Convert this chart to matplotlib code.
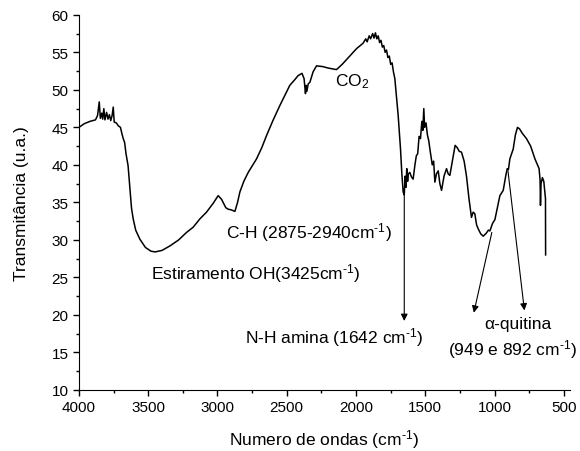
import matplotlib.pyplot as plt
from matplotlib.ticker import MultipleLocator

plt.rcParams['font.family'] = ['Liberation Sans', 'DejaVu Sans']
plt.rcParams['mathtext.fontset'] = 'custom'
plt.rcParams['mathtext.rm'] = 'Liberation Sans'
plt.rcParams['mathtext.it'] = 'Liberation Sans:italic'

# FTIR spectrum (wavenumber, transmittance)
wavenumber = [4000, 3960, 3920, 3880, 3865, 3853, 3845, 3835, 3828, 3820, 3812,
              3800, 3790, 3780, 3770, 3760, 3752, 3745, 3730, 3715, 3700, 3690,
              3680, 3670, 3660, 3645, 3630, 3620, 3608, 3590, 3560, 3520, 3480,
              3450, 3400, 3343, 3280, 3223, 3175, 3127, 3079, 3030, 2995, 2970,
              2940, 2923, 2900, 2874, 2855, 2838, 2810, 2778, 2745, 2718, 2680,
              2646, 2600, 2550, 2510, 2478, 2440, 2418, 2390, 2375, 2365, 2360,
              2355, 2345, 2333, 2310, 2285, 2240, 2200, 2141, 2100, 2050, 1996,
              1950, 1930, 1920, 1905, 1895, 1880, 1870, 1860, 1850, 1840, 1830,
              1820, 1810, 1800, 1790, 1780, 1770, 1760, 1750, 1740, 1730, 1720,
              1710, 1696, 1679, 1670, 1660, 1652, 1646, 1640, 1634, 1628, 1622,
              1612, 1600, 1588, 1575, 1565, 1555, 1545, 1535, 1525, 1518, 1511,
              1505, 1495, 1485, 1475, 1467, 1450, 1440, 1431, 1420, 1407, 1395,
              1383, 1365, 1347, 1335, 1323, 1300, 1285, 1270, 1255, 1239, 1220,
              1203, 1185, 1167, 1155, 1143, 1130, 1119, 1100, 1082, 1060, 1045,
              1034, 1015, 998, 980, 962, 938, 920, 909, 900, 890, 866, 850, 835,
              820, 800, 770, 740, 709, 690, 679, 672, 669, 665, 655, 645, 638,
              633, 632]
transmitance = [45.0, 45.5, 45.8, 46.0, 46.6, 48.4, 46.2, 46.9, 46.1, 47.5, 46.0,
                47.0, 46.1, 46.7, 45.9, 46.6, 47.7, 45.7, 45.6, 45.2, 45.0, 44.2,
                43.5, 43.0, 41.5, 39.9, 36.5, 34.2, 32.8, 31.3, 30.1, 29.0, 28.5,
                28.4, 28.6, 29.2, 30.0, 31.0, 31.7, 32.8, 33.7, 34.9, 35.9, 35.4,
                34.3, 34.1, 34.0, 33.8, 35.0, 36.4, 37.8, 39.0, 40.0, 40.8, 42.3,
                43.9, 45.9, 47.9, 49.4, 50.6, 51.4, 51.9, 52.2, 51.5, 49.5, 50.6,
                49.8, 50.8, 51.0, 52.4, 53.2, 53.1, 52.9, 52.7, 53.4, 54.4, 55.5,
                56.2, 56.8, 56.4, 57.2, 56.8, 57.5, 56.9, 57.6, 56.8, 57.2, 56.3,
                56.6, 55.7, 55.9, 55.0, 55.3, 54.3, 54.5, 53.4, 53.6, 52.4, 51.5,
                49.5, 46.6, 42.1, 39.0, 36.4, 36.0, 38.5, 37.0, 39.5, 37.8, 38.8,
                39.0, 38.4, 38.1, 40.0, 41.2, 41.5, 43.8, 43.5, 45.8, 44.6, 47.5,
                45.0, 45.6, 44.0, 43.2, 42.1, 40.0, 40.5, 37.7, 38.8, 39.2, 37.5,
                36.6, 38.5, 39.5, 38.8, 38.6, 41.0, 42.6, 42.3, 41.8, 41.7, 40.5,
                38.5, 35.5, 33.0, 33.7, 33.5, 32.0, 31.5, 30.8, 30.5, 30.9, 31.3,
                31.2, 32.2, 32.7, 34.3, 35.9, 36.6, 38.5, 39.5, 39.4, 40.8, 42.1,
                44.0, 45.0, 44.8, 44.2, 43.5, 42.5, 40.8, 40.0, 39.5, 38.0, 34.6,
                37.5, 38.3, 37.8, 36.5, 35.5, 28.0]

fig, ax = plt.subplots(figsize=(5.8, 4.52), dpi=100)
fig.subplots_adjust(left=0.136, right=0.983, bottom=0.135, top=0.965)

ax.plot(wavenumber, transmitance, color='black', lw=1.1)

ax.set_xlim(4000, 455)
ax.set_ylim(10, 60)
ax.xaxis.set_major_locator(MultipleLocator(500))
ax.xaxis.set_minor_locator(MultipleLocator(250))
ax.yaxis.set_major_locator(MultipleLocator(5))
ax.yaxis.set_minor_locator(MultipleLocator(2.5))
ax.tick_params(which='both', direction='out', labelsize=11, width=1)
ax.tick_params(which='major', length=4)
ax.tick_params(which='minor', length=2.5)
ax.spines['top'].set_visible(False)
ax.spines['right'].set_visible(False)

sup = '$^{\\text{-1}}$'
ax.set_xlabel('Numero de ondas (cm' + sup + ')', fontsize=12.5, labelpad=9)
ax.set_ylabel('Transmitância (u.a.)', fontsize=12.5, labelpad=16)

# labels for the bands
fs = 12.5
ax.text(2030, 51.2, 'CO$_{\\rm 2}$', fontsize=fs, ha='center', va='center')
ax.text(2939, 31.1, 'C-H (2875-2940cm' + sup + ')', fontsize=fs, ha='left', va='center')
ax.text(3480, 25.7, 'Estiramento OH(3425cm' + sup + ')', fontsize=fs, ha='left', va='center')
ax.text(2802, 17.1, 'N-H amina (1642 cm' + sup + ')', fontsize=fs, ha='left', va='center')
ax.text(832, 18.8, 'α-quitina', fontsize=fs, ha='center', va='center')
ax.text(872, 15.5, '(949 e 892 cm' + sup + ')', fontsize=fs, ha='center', va='center')

arrow = dict(arrowstyle='-|>', color='black', lw=0.8, mutation_scale=10,
             shrinkA=0, shrinkB=0)
ax.annotate('', xy=(1652, 19.2), xytext=(1652, 36.0), arrowprops=arrow)
ax.annotate('', xy=(1150, 20.3), xytext=(1020, 31.0), arrowprops=arrow)
ax.annotate('', xy=(785, 20.6), xytext=(905, 39.4), arrowprops=arrow)

fig.savefig('out.png', dpi=100)
